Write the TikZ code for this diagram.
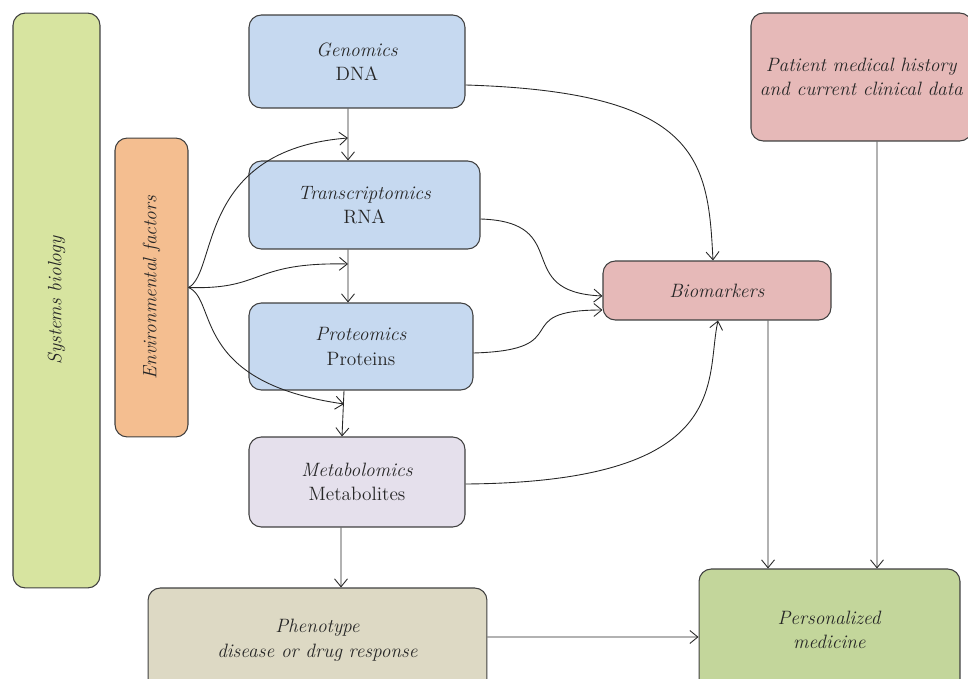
\documentclass[tikz,border=0pt]{standalone}
\usepackage{xcolor}
\usetikzlibrary{calc,arrows.meta}
\definecolor{sysgreen}{HTML}{D7E4A0}
\definecolor{envorange}{HTML}{F4BE90}
\definecolor{omicsblue}{HTML}{C6D9F0}
\definecolor{metalilac}{HTML}{E5E0EC}
\definecolor{phenobeige}{HTML}{DDD9C4}
\definecolor{markpink}{HTML}{E6B9B8}
\definecolor{medgreen}{HTML}{C3D69B}
\tikzset{
	box/.style={
			draw=black!75, line width=0.6pt, rounded corners=7pt, align=center,
			font=\fontsize{11}{14}\selectfont, text=black!85
		},
	link/.style={draw=black!85, line width=0.5pt, -{Straight Barb[length=1.6mm,width=2.6mm]}}
}

\begin{document}
\begin{tikzpicture}[x=0.02cm,y=-0.02cm]
		\useasboundingbox (0,0) rectangle (968,679);
		\clip (0,0) rectangle (968,679);
		% side bars
		\node [box,fill=sysgreen,minimum width=1.74cm,minimum height=11.5cm] (sys) at (56.5,300.5) {};
		\node [rotate=90,font=\fontsize{11}{14}\selectfont\itshape,text=black!85] (syslabel) at (sys.center) {Systems biology};
		\node [box,fill=envorange,minimum width=1.46cm,minimum height=5.98cm] (env) at (151.5,287.5) {};
		\node [rotate=90,font=\fontsize{11}{14}\selectfont\itshape,text=black!85] (envlabel) at (env.center) {Environmental factors};
		% omics column
		\node [box,fill=omicsblue,minimum width=4.32cm,minimum height=1.86cm] (gen) at (357,61.5) {\textit{Genomics}\\DNA};
		\node [box,fill=omicsblue,minimum width=4.62cm,minimum height=1.76cm] (trans) at (364.5,205) {\textit{Transcriptomics}\\RNA};
		\node [box,fill=omicsblue,minimum width=4.48cm,minimum height=1.74cm] (prot) at (361,346.5) {\textit{Proteomics}\\Proteins};
		\node [box,fill=metalilac,minimum width=4.32cm,minimum height=1.8cm] (meta) at (357,482) {\textit{Metabolomics}\\Metabolites};
		\node [box,fill=phenobeige,minimum width=6.78cm,minimum height=2.08cm] (pheno) at (317.5,640) {\textit{Phenotype}\\\textit{disease or drug response}};
		% right side
		\node [box,fill=markpink,minimum width=4.42cm,minimum height=2.56cm] (hist) at (861.5,77) {\textit{Patient medical history}\\\textit{and current clinical data}};
		\node [box,fill=markpink,minimum width=4.56cm,minimum height=1.18cm] (bio) at (717,290.5) {\textit{Biomarkers}};
		\node [box,fill=medgreen,minimum width=5.22cm,minimum height=2.44cm] (med) at (829.5,630) {\textit{Personalized}\\\textit{medicine}};
		% vertical flow
		\draw [link] ([xshift=-0.18cm]gen.south) -- ([xshift=-0.33cm]trans.north);
		\draw [link] ([xshift=-0.33cm]trans.south) -- ([xshift=-0.26cm]prot.north);
		\draw [link] ([xshift=-0.34cm]prot.south) -- ([xshift=-0.3cm]meta.north);
		\draw [link] ([xshift=-0.32cm]meta.south) -- ([xshift=0.47cm]pheno.north);
		% environment
		\coordinate (envtr) at (348,138);
		\coordinate (envpr) at (348,264);
		\coordinate (envme) at (344,404);
		\draw [link] (env.east) .. controls (218,272) and (196,150) .. (envtr);
		\draw [link] (env.east) .. controls (265,290) and (250,262) .. (envpr);
		\draw [link] (env.east) .. controls (218,300) and (190,382) .. (envme);
		% biomarkers
		\draw [link] ([yshift=-0.47cm]gen.east) .. controls (700,92) and (708,160) .. ([xshift=-0.08cm]bio.north);
		\draw [link] ([yshift=-0.28cm]trans.east) .. controls (575,222) and (510,292) .. ([yshift=-0.11cm]bio.west);
		\draw [link] ([yshift=-0.13cm]prot.east) .. controls (580,350) and (505,310) .. ([yshift=-0.39cm]bio.west);
		\draw [link] ([yshift=-0.04cm]meta.east) .. controls (735,482) and (705,380) .. ([xshift=0.02cm]bio.south);
		% to personalized medicine
		\draw [link] ([xshift=1.02cm]bio.south) -- ([xshift=-1.23cm]med.north);
		\draw [link] ([xshift=0.31cm]hist.south) -- ([xshift=0.95cm]med.north);
		\draw [link] ([yshift=0.06cm]pheno.east) -- ([yshift=-0.14cm]med.west);
	\end{tikzpicture}
\end{document}
